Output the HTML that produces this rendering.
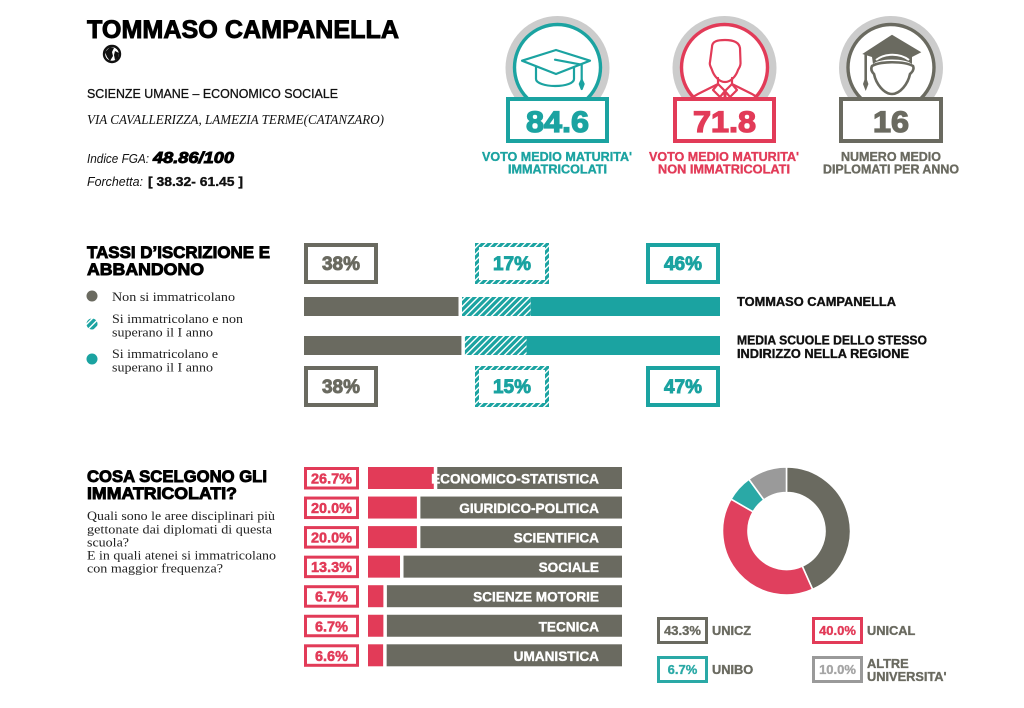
<!DOCTYPE html>
<html lang="it">
<head>
<meta charset="utf-8">
<title>Tommaso Campanella</title>
<style>
html,body{margin:0;padding:0;background:#fff;width:1024px;height:708px;overflow:hidden}
svg{display:block}
text{font-family:"Liberation Sans",sans-serif}
.sans{font-family:"Liberation Sans",sans-serif}
.serif{font-family:"Liberation Serif",serif}
.b{font-weight:700;stroke-width:.35px;stroke:currentColor}
.heavy{font-weight:700;stroke-width:.9px}
.huge{font-weight:700;stroke-width:1.3px}
</style>
</head>
<body>
<svg id="page" xmlns="http://www.w3.org/2000/svg" width="1024" height="708" viewBox="0 0 1024 708">
<defs>
<pattern id="hatch" patternUnits="userSpaceOnUse" width="4.6" height="4.6" patternTransform="rotate(45)">
<rect width="4.6" height="4.6" fill="#1ba3a1"/>
<rect x="0" width="1.4" height="4.6" fill="#ffffff"/>
</pattern>
<clipPath id="clip-person"><circle cx="724.5" cy="67.5" r="42"/></clipPath>
</defs>

<g>
<text class="heavy" x="87" y="38" font-size="25" fill="#000" stroke="#000" textLength="312" lengthAdjust="spacingAndGlyphs">TOMMASO CAMPANELLA</text>
<g>
<circle cx="112" cy="54" r="8" fill="#fff" stroke="#111" stroke-width="2.4"/>
<path d="M105 52 L110 47 L114 48 L112 52 L113 56 L110 61 L107 57Z M115 51 L119 53 L118 58 L115 60 L114 55Z" fill="#111"/>
</g>
<text x="87" y="98" font-size="13" fill="#111" stroke="#111" stroke-width=".3" textLength="251" lengthAdjust="spacingAndGlyphs">SCIENZE UMANE – ECONOMICO SOCIALE</text>
<text class="serif" x="87" y="124" font-size="14" font-style="italic" fill="#111" textLength="297" lengthAdjust="spacingAndGlyphs">VIA CAVALLERIZZA, LAMEZIA TERME(CATANZARO)</text>
<text x="87" y="163" font-size="13" font-style="italic" fill="#111" textLength="62" lengthAdjust="spacingAndGlyphs">Indice FGA:</text>
<text class="heavy" x="153" y="163" font-size="16" font-style="italic" fill="#000" stroke="#000" textLength="81" lengthAdjust="spacingAndGlyphs">48.86/100</text>
<text x="87" y="186" font-size="13" font-style="italic" fill="#111" textLength="56" lengthAdjust="spacingAndGlyphs">Forchetta:</text>
<text class="b" x="148" y="186" font-size="13" fill="#111" color="#111" textLength="95" lengthAdjust="spacingAndGlyphs">[ 38.32- 61.45 ]</text>
</g>

<g>
<circle cx="557.5" cy="68" r="52" fill="#cccccc"/>
<circle cx="557.5" cy="67.5" r="43" fill="#fff" stroke="#1ba3a1" stroke-width="3.4"/>
<g fill="none" stroke="#1ba3a1" stroke-width="2.2" stroke-linejoin="round" stroke-linecap="round">
<path d="M522 60.7 L556 50 L590 60.7 L556 74Z"/>
<path d="M536 67 V79 C536 83 545 86 555 86 C566 86 574 83 574 79 V67"/>
<path d="M555 59.7 L581.7 64.7 V80"/>
<path d="M581.7 80 L579.8 84 L581.7 89 L583.6 84Z" fill="#1ba3a1"/>
</g>
<rect x="508" y="99" width="99" height="42" fill="#fff" stroke="#1ba3a1" stroke-width="4"/>
<text class="huge" x="526" y="132" font-size="30" fill="#1ba3a1" stroke="#1ba3a1" textLength="63" lengthAdjust="spacingAndGlyphs">84.6</text>
<text class="b" x="482" y="161" font-size="13" fill="#1ba3a1" color="#1ba3a1" textLength="150" lengthAdjust="spacingAndGlyphs">VOTO MEDIO MATURITA'</text>
<text class="b" x="508" y="173.5" font-size="13" fill="#1ba3a1" color="#1ba3a1" textLength="99" lengthAdjust="spacingAndGlyphs">IMMATRICOLATI</text>
</g>

<g>
<circle cx="724.5" cy="68" r="52" fill="#cccccc"/>
<circle cx="724.5" cy="67.5" r="43" fill="#fff" stroke="#e23b58" stroke-width="3.4"/>
<g fill="none" stroke="#e23b58" stroke-width="2.2" stroke-linejoin="round" stroke-linecap="round" clip-path="url(#clip-person)">
<path d="M712 47 C712 41 718 40 725 40 C733 40 739 42 740 48 L740.5 62 C741 66 739 68 738 70 C736 76 731 82 725 82 C719 82 714 76 712 70 C711 67 709 65 710 62Z"/>
<path d="M718 78 V84 L698 94 C694 96 690 99 688 104 M732 78 V84 L752 94 C756 96 760 99 762 104"/>
<path d="M718 84 L725 91 L720 97 L713 90Z M732 84 L725 91 L730 97 L737 90Z"/>
<path d="M725 91 V104" stroke-width="3"/>
</g>
<rect x="675" y="99" width="99" height="42" fill="#fff" stroke="#e23b58" stroke-width="4"/>
<text class="huge" x="693" y="132" font-size="30" fill="#e23b58" stroke="#e23b58" textLength="63" lengthAdjust="spacingAndGlyphs">71.8</text>
<text class="b" x="649" y="161" font-size="13" fill="#e23b58" color="#e23b58" textLength="150" lengthAdjust="spacingAndGlyphs">VOTO MEDIO MATURITA'</text>
<text class="b" x="658" y="173.5" font-size="13" fill="#e23b58" color="#e23b58" textLength="132" lengthAdjust="spacingAndGlyphs">NON IMMATRICOLATI</text>
</g>

<g>
<circle cx="891" cy="68" r="52" fill="#cccccc"/>
<circle cx="891" cy="67.5" r="43" fill="#fff" stroke="#6a6a60" stroke-width="3.4"/>
<g>
<path d="M892 34.7 L921.3 52.3 L912 57 V64 C905 58 880 58 873 64 L872 57 L862.3 54Z" fill="#6a6a60"/>
<path d="M876 60 C885 53 900 53 909 60" fill="none" stroke="#fff" stroke-width="2"/>
<path d="M872 66 C880 61 904 61 913 66 C915 70 911 73 910 74 C908 84 900 94 892 94 C884 94 876 84 874 74 C873 73 870 70 872 66Z" fill="#fff" stroke="#6a6a60" stroke-width="2.6"/>
<path d="M865.7 54 V80" stroke="#6a6a60" stroke-width="2.6" fill="none"/>
<path d="M865.7 76 L863 84 L865.7 91 L868.4 84Z" fill="#6a6a60"/>
</g>
<rect x="841" y="99" width="100" height="42" fill="#fff" stroke="#6a6a60" stroke-width="4"/>
<text class="huge" x="873" y="132" font-size="30" fill="#6a6a60" stroke="#6a6a60" textLength="36" lengthAdjust="spacingAndGlyphs">16</text>
<text class="b" x="841" y="161" font-size="13" fill="#6a6a60" color="#6a6a60" textLength="100" lengthAdjust="spacingAndGlyphs">NUMERO MEDIO</text>
<text class="b" x="823" y="173.5" font-size="13" fill="#6a6a60" color="#6a6a60" textLength="136" lengthAdjust="spacingAndGlyphs">DIPLOMATI PER ANNO</text>
</g>

<g>
<text class="heavy" x="87" y="258" font-size="17" fill="#000" stroke="#000" textLength="183" lengthAdjust="spacingAndGlyphs">TASSI D’ISCRIZIONE E</text>
<text class="heavy" x="87" y="275" font-size="17" fill="#000" stroke="#000" textLength="117" lengthAdjust="spacingAndGlyphs">ABBANDONO</text>
<g>
<circle cx="92" cy="296" r="5.5" fill="#6a6a60"/>
<text class="serif" x="112" y="301" font-size="13" fill="#222" textLength="123" lengthAdjust="spacingAndGlyphs">Non si immatricolano</text>
</g>
<g>
<circle cx="92" cy="324" r="5.5" fill="url(#hatch)"/>
<text class="serif" x="112" y="323" font-size="13" fill="#222" textLength="131" lengthAdjust="spacingAndGlyphs">Si immatricolano e non</text>
<text class="serif" x="112" y="336.5" font-size="13" fill="#222" textLength="101" lengthAdjust="spacingAndGlyphs">superano il I anno</text>
</g>
<g>
<circle cx="92" cy="359" r="5.5" fill="#1ba3a1"/>
<text class="serif" x="112" y="358" font-size="13" fill="#222" textLength="106" lengthAdjust="spacingAndGlyphs">Si immatricolano e</text>
<text class="serif" x="112" y="371.5" font-size="13" fill="#222" textLength="101" lengthAdjust="spacingAndGlyphs">superano il I anno</text>
</g>
</g>

<g id="stacked-chart"></g>

<g>
<text class="b" x="737" y="306" font-size="12.5" fill="#111" color="#111" textLength="159" lengthAdjust="spacingAndGlyphs">TOMMASO CAMPANELLA</text>
<text class="b" x="737" y="344.5" font-size="12.5" fill="#111" color="#111" textLength="190" lengthAdjust="spacingAndGlyphs">MEDIA SCUOLE DELLO STESSO</text>
<text class="b" x="737" y="358" font-size="12.5" fill="#111" color="#111" textLength="172" lengthAdjust="spacingAndGlyphs">INDIRIZZO NELLA REGIONE</text>
</g>

<g>
<text class="heavy" x="87" y="482" font-size="17" fill="#000" stroke="#000" textLength="180" lengthAdjust="spacingAndGlyphs">COSA SCELGONO GLI</text>
<text class="heavy" x="87" y="499" font-size="17" fill="#000" stroke="#000" textLength="150" lengthAdjust="spacingAndGlyphs">IMMATRICOLATI?</text>
<g fill="#222">
<text class="serif" x="87" y="520" font-size="13" textLength="188" lengthAdjust="spacingAndGlyphs">Quali sono le aree disciplinari più</text>
<text class="serif" x="87" y="533.5" font-size="13" textLength="185" lengthAdjust="spacingAndGlyphs">gettonate dai diplomati di questa</text>
<text class="serif" x="87" y="546.5" font-size="13" textLength="42" lengthAdjust="spacingAndGlyphs">scuola?</text>
<text class="serif" x="87" y="559.5" font-size="13" textLength="189" lengthAdjust="spacingAndGlyphs">E in quali atenei si immatricolano</text>
<text class="serif" x="87" y="572.5" font-size="13" textLength="136" lengthAdjust="spacingAndGlyphs">con maggior frequenza?</text>
</g>
</g>

<g id="discipline-chart"></g>
<g id="donut-chart"></g>
<g id="donut-legend"></g>
</svg>

<script>
// Enrollment stacked bars
const stackedRows = ['tommaso-campanella', 'regional-average'];
const schoolShares = [37.5, 17, 45.5];
const regionShares = [38.2, 15.3, 46.5];
const schoolLabels = ['38%', '17%', '46%'];
const regionLabels = ['38%', '15%', '47%'];

// Discipline bars
const disciplines = ['ECONOMICO-STATISTICA', 'GIURIDICO-POLITICA', 'SCIENTIFICA', 'SOCIALE', 'SCIENZE MOTORIE', 'TECNICA', 'UMANISTICA'];
const disciplineValues = [26.7, 20.0, 20.0, 13.3, 6.7, 6.7, 6.6];

// Donut
const universities = ['UNICZ', 'UNICAL', 'UNIBO', "ALTRE"];
const universityValues = [43.3, 40.0, 6.7, 10.0];

const NS = 'http://www.w3.org/2000/svg';
const GRAY = '#6a6a60', TEAL = '#1ba3a1', PINK = '#e23b58', LIGHT = '#9a9a9a';

function mk(parent, tag, props, txt) {
  const el = document.createElementNS(NS, tag);
  for (const k in props) el.setAttribute(k, props[k]);
  if (txt !== undefined) el.textContent = txt;
  parent.appendChild(el);
  return el;
}

/* ---------- stacked bars ---------- */
const stackX = v => 304 + 416 * v / 100;
const stackFills = [GRAY, 'url(#hatch)', TEAL];
const stackText = [GRAY, TEAL, TEAL];
const stackParts = ['not-enrolled', 'enrolled-dropout', 'enrolled-continue'];
const stackChart = document.getElementById('stacked-chart');

function drawStack(shares, labels, rowIndex, barY, boxY) {
  const total = shares.reduce((a, b) => a + b, 0);
  let cum = 0;
  shares.forEach((v, i) => {
    const x0 = stackX(cum / total * 100) + (i === 1 ? 2 : 0);
    cum += v;
    const x1 = stackX(cum / total * 100) - (i === 0 ? 1.5 : 0);
    const bar = mk(stackChart, 'rect', {x: x0, y: barY, width: x1 - x0, height: 19, fill: stackFills[i]});
    
    

    const bx = 304 + i * 171;
    const box = mk(stackChart, 'rect', {x: bx + 2, y: boxY + 2, width: 70, height: 37, fill: '#fff', stroke: stackFills[i], 'stroke-width': 4});
    
    

    const t = mk(stackChart, 'text', {x: bx + 37, y: boxY + 27, 'text-anchor': 'middle', 'font-size': 19, 'font-weight': 700, fill: stackText[i], stroke: stackText[i], 'stroke-width': .9}, labels[i]);
    
    
  });
}
drawStack(schoolShares, schoolLabels, 0, 297, 243);
drawStack(regionShares, regionLabels, 1, 336, 366);

/* ---------- discipline bars ---------- */
const discChart = document.getElementById('discipline-chart');
const discX = v => 368 + 2.52 * v;
const discY = i => 467 + i * 29.55;
disciplines.forEach((name, i) => {
  const v = disciplineValues[i], y = discY(i), b = discX(v);

  const box = mk(discChart, 'rect', {x: 305.5, y: y + 1.5, width: 52, height: 19.5, fill: '#fff', stroke: PINK, 'stroke-width': 3});
  
  

  const val = mk(discChart, 'text', {x: 331.5, y: y + 16.5, 'text-anchor': 'middle', 'font-size': 14.5, 'font-weight': 700, fill: PINK, stroke: PINK, 'stroke-width': .5}, v.toFixed(1) + '%');
  
  

  const pink = mk(discChart, 'rect', {x: 368, y: y, width: b - 1.5 - 368, height: 22, fill: PINK});
  
  

  const rest = mk(discChart, 'rect', {x: b + 2, y: y, width: 622 - b - 2, height: 22, fill: GRAY});
  
  

  const label = mk(discChart, 'text', {x: 599, y: y + 16.5, 'text-anchor': 'end', 'font-size': 13.6, 'font-weight': 700, fill: '#fff', stroke: '#fff', 'stroke-width': .35}, name);
  
  
});

/* ---------- donut ---------- */
const donut = document.getElementById('donut-chart');
const donutFills = [GRAY, '#e0405e', '#2aa9a6', LIGHT];
const donutTotal = universityValues.reduce((a, b) => a + b, 0);
const CX = 786.5, CY = 531, RO = 64, RI = 38.5;
const polar = (r, f) => {
  const a = f * 2 * Math.PI;
  return [CX + r * Math.sin(a), CY - r * Math.cos(a)];
};
let cumDonut = 0;
universityValues.forEach((v, i) => {
  const f0 = cumDonut / donutTotal;
  cumDonut += v;
  const f1 = cumDonut / donutTotal;
  const large = f1 - f0 > .5 ? 1 : 0;
  const p0 = polar(RO, f0), p1 = polar(RO, f1), p2 = polar(RI, f1), p3 = polar(RI, f0);
  const d = 'M' + p0 + ' A' + RO + ' ' + RO + ' 0 ' + large + ' 1 ' + p1 + ' L' + p2 + ' A' + RI + ' ' + RI + ' 0 ' + large + ' 0 ' + p3 + 'Z';
  const slice = mk(donut, 'path', {d: d, fill: donutFills[i], stroke: '#fff', 'stroke-width': 1.6});
  
  
});

/* ---------- donut legend ---------- */
const legend = document.getElementById('donut-legend');
const legendStroke = [GRAY, PINK, '#2aa9a6', LIGHT];
const legendTextFill = [GRAY, PINK, '#2aa9a6', '#a5a5a5'];
universities.forEach((u, i) => {
  const lx = i % 2 === 0 ? 657 : 812;
  const ly = i < 2 ? 617 : 656;
  const box = mk(legend, 'rect', {x: lx + 1.5, y: ly + 1.5, width: 48, height: 24, fill: '#fff', stroke: legendStroke[i], 'stroke-width': 3});
  
  

  const val = mk(legend, 'text', {x: lx + 25.5, y: ly + 18, 'text-anchor': 'middle', 'font-size': 13, 'font-weight': 700, fill: legendTextFill[i], stroke: legendTextFill[i], 'stroke-width': .35}, universityValues[i].toFixed(1) + '%');
  
  

  const name = mk(legend, 'text', {x: lx + 55, y: i === 3 ? ly + 12 : ly + 18, 'font-size': 12.8, 'font-weight': 700, fill: GRAY, stroke: GRAY, 'stroke-width': .35}, u);
  
  

  if (i === 3) {
    const extra = mk(legend, 'text', {x: lx + 55, y: ly + 25, 'font-size': 12.8, 'font-weight': 700, fill: GRAY, stroke: GRAY, 'stroke-width': .35}, "UNIVERSITA'");
    
    
  }
});
</script>
</body>
</html>
